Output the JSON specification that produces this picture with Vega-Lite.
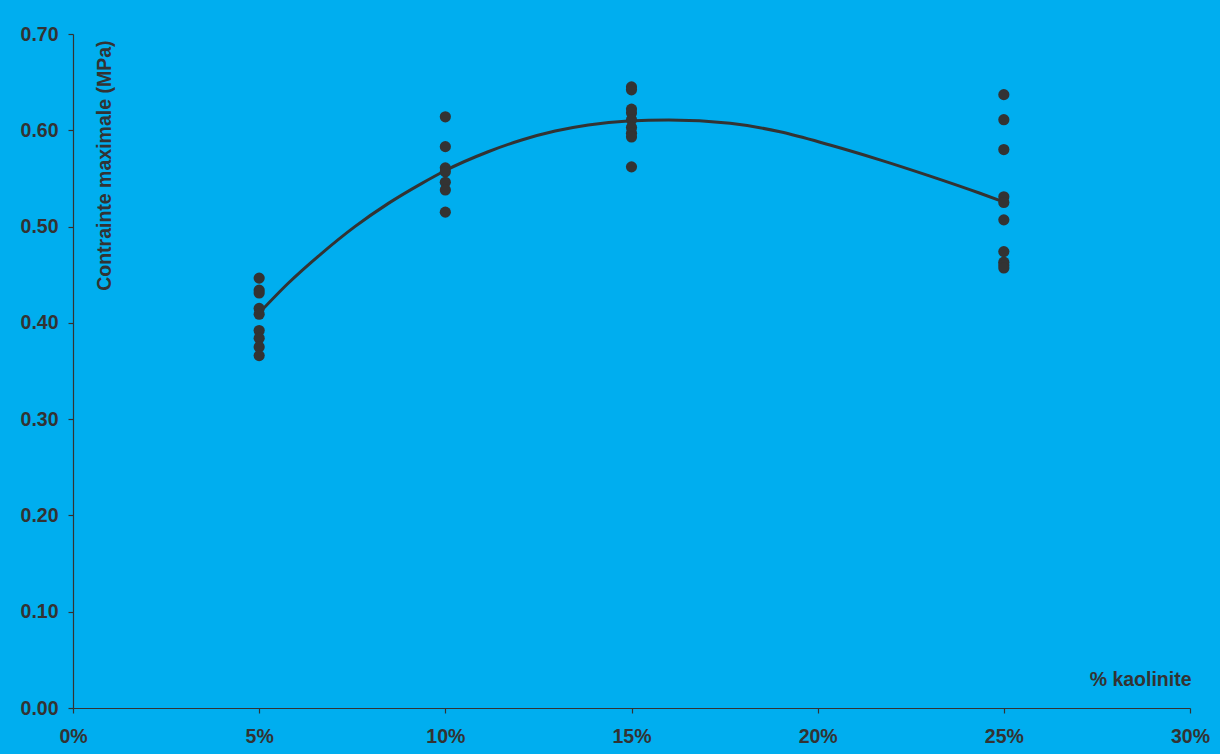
{
  "$schema": "https://vega.github.io/schema/vega-lite/v6.json",
  "width": 1117,
  "height": 674,
  "autosize": {"type": "none"},
  "padding": {"left": 73, "top": 34, "right": 30, "bottom": 46},
  "background": "#00AEEF",
  "config": {
    "view": {"stroke": null},
    "font": "Liberation Sans",
    "axis": {
      "labelFont": "Liberation Sans",
      "titleFont": "Liberation Sans",
      "labelFontSize": 19.5,
      "titleFontSize": 19.5,
      "labelFontWeight": "bold",
      "titleFontWeight": "bold",
      "labelColor": "#333333",
      "titleColor": "#333333",
      "domainColor": "#333333",
      "tickColor": "#333333",
      "domainWidth": 1.2,
      "tickWidth": 1.2,
      "tickSize": 5,
      "grid": false
    }
  },
  "datasets": {
    "points": [
      {"pct": 0.05, "value": 0.4465},
      {"pct": 0.05, "value": 0.434},
      {"pct": 0.05, "value": 0.431},
      {"pct": 0.05, "value": 0.415},
      {"pct": 0.05, "value": 0.409},
      {"pct": 0.05, "value": 0.392},
      {"pct": 0.05, "value": 0.384},
      {"pct": 0.05, "value": 0.375},
      {"pct": 0.05, "value": 0.366},
      {"pct": 0.10, "value": 0.614},
      {"pct": 0.10, "value": 0.583},
      {"pct": 0.10, "value": 0.561},
      {"pct": 0.10, "value": 0.557},
      {"pct": 0.10, "value": 0.546},
      {"pct": 0.10, "value": 0.538},
      {"pct": 0.10, "value": 0.515},
      {"pct": 0.15, "value": 0.645},
      {"pct": 0.15, "value": 0.642},
      {"pct": 0.15, "value": 0.622},
      {"pct": 0.15, "value": 0.618},
      {"pct": 0.15, "value": 0.611},
      {"pct": 0.15, "value": 0.603},
      {"pct": 0.15, "value": 0.597},
      {"pct": 0.15, "value": 0.593},
      {"pct": 0.15, "value": 0.562},
      {"pct": 0.25, "value": 0.637},
      {"pct": 0.25, "value": 0.611},
      {"pct": 0.25, "value": 0.580},
      {"pct": 0.25, "value": 0.531},
      {"pct": 0.25, "value": 0.525},
      {"pct": 0.25, "value": 0.507},
      {"pct": 0.25, "value": 0.474},
      {"pct": 0.25, "value": 0.463},
      {"pct": 0.25, "value": 0.460},
      {"pct": 0.25, "value": 0.457}
    ],
    "curve": [
      {"pct": 0.05, "value": 0.4102},
      {"pct": 0.0578, "value": 0.4411},
      {"pct": 0.0668, "value": 0.4722},
      {"pct": 0.0757, "value": 0.4999},
      {"pct": 0.0847, "value": 0.5241},
      {"pct": 0.0937, "value": 0.5449},
      {"pct": 0.0999, "value": 0.5580},
      {"pct": 0.1115, "value": 0.5777},
      {"pct": 0.1205, "value": 0.5899},
      {"pct": 0.1295, "value": 0.5992},
      {"pct": 0.1384, "value": 0.6055},
      {"pct": 0.1491, "value": 0.6097},
      {"pct": 0.1600, "value": 0.6108},
      {"pct": 0.1765, "value": 0.6072},
      {"pct": 0.1899, "value": 0.5985},
      {"pct": 0.2033, "value": 0.5847},
      {"pct": 0.2167, "value": 0.5693},
      {"pct": 0.2302, "value": 0.5524},
      {"pct": 0.2436, "value": 0.5346},
      {"pct": 0.25, "value": 0.5256}
    ]
  },
  "encoding": {
    "x": {
      "field": "pct",
      "type": "quantitative",
      "scale": {"domain": [0, 0.3], "nice": false, "zero": false},
      "axis": {
        "values": [0, 0.05, 0.1, 0.15, 0.2, 0.25, 0.3],
        "format": ".0%",
        "labelPadding": 14,
        "labelFlush": false,
        "title": "% kaolinite",
        "titleAnchor": null,
        "titleX": 1118,
        "titleY": -29,
        "titleAlign": "right",
        "titleBaseline": "middle"
      }
    },
    "y": {
      "field": "value",
      "type": "quantitative",
      "scale": {"domain": [0, 0.7], "nice": false},
      "axis": {
        "values": [0, 0.1, 0.2, 0.3, 0.4, 0.5, 0.6, 0.7],
        "format": ".2f",
        "labelPadding": 10,
        "labelFlush": false,
        "title": "Contrainte maximale (MPa)",
        "titleAngle": -90,
        "titleX": 31,
        "titleY": 6,
        "titleAlign": "right",
        "titleBaseline": "middle"
      }
    }
  },
  "layer": [
    {
      "data": {"name": "curve"},
      "mark": {"type": "line", "color": "#333333", "strokeWidth": 3, "interpolate": "monotone"}
    },
    {
      "data": {"name": "points"},
      "mark": {"type": "circle", "color": "#333333", "opacity": 1, "size": 125}
    }
  ]
}
